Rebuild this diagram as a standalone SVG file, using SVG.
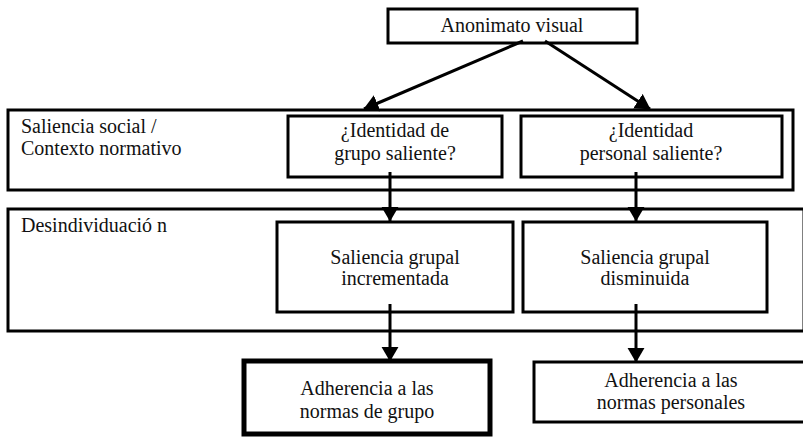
<svg xmlns="http://www.w3.org/2000/svg" width="803" height="439" viewBox="0 0 803 439">
<defs>
<style>
.frame{fill:none;stroke:#000;stroke-width:3}
.box{fill:#fff;stroke:#000;stroke-width:3}
.thick{fill:#fff;stroke:#000;stroke-width:5}
text{font-family:"Liberation Serif","Times New Roman",serif;font-size:20px;fill:#111}
.c{text-anchor:middle}
.conn{stroke:#000;stroke-width:3;fill:none}
</style>
<marker id="ah" markerWidth="5" markerHeight="6" refX="4.8" refY="2.9" orient="auto" markerUnits="strokeWidth">
<path d="M0,0 L5,2.9 L0,5.8 z" fill="#000"/>
</marker>
</defs>
<rect width="803" height="439" fill="#fff"/>
<g id="frame-saliencia">
<rect class="frame" x="8" y="110" width="785" height="80"/>
<text x="21" y="133">Saliencia social /</text>
<text x="21" y="155">Contexto normativo</text>
</g>
<g id="frame-desind">
<rect class="frame" x="8" y="209" width="796" height="122"/>
<text x="21" y="232">Desindividuació n</text>
</g>
<g id="anonimato">
<rect class="box" x="388" y="9" width="249" height="34"/>
<text class="c" x="512" y="32">Anonimato visual</text>
</g>
<g id="identidad-grupo">
<rect class="box" x="288" y="116" width="214" height="61"/>
<text class="c" x="395" y="137">¿Identidad de</text>
<text class="c" x="395" y="160">grupo saliente?</text>
</g>
<g id="identidad-personal">
<rect class="box" x="521" y="116" width="261" height="61"/>
<text class="c" x="651" y="137">¿Identidad</text>
<text class="c" x="651" y="160">personal saliente?</text>
</g>
<g id="saliencia-incrementada">
<rect class="box" x="277" y="222" width="236" height="90"/>
<text class="c" x="395" y="264">Saliencia grupal</text>
<text class="c" x="395" y="285">incrementada</text>
</g>
<g id="saliencia-disminuida">
<rect class="box" x="523" y="222" width="244" height="90"/>
<text class="c" x="645" y="264">Saliencia grupal</text>
<text class="c" x="645" y="285">disminuida</text>
</g>
<g id="adherencia-grupo">
<rect class="thick" x="244" y="361" width="246" height="73"/>
<text class="c" x="367" y="395">Adherencia a las</text>
<text class="c" x="367" y="418">normas de grupo</text>
</g>
<g id="adherencia-personal">
<rect class="box" x="534" y="362" width="275" height="60"/>
<text class="c" x="671" y="387">Adherencia a las</text>
<text class="c" x="671" y="409">normas personales</text>
</g>
<g id="connectors">
<line class="conn" x1="523" y1="41" x2="364" y2="109" marker-end="url(#ah)"/>
<line class="conn" x1="545" y1="41" x2="650" y2="109" marker-end="url(#ah)"/>
<line class="conn" x1="390" y1="172" x2="390" y2="221" marker-end="url(#ah)"/>
<line class="conn" x1="636" y1="172" x2="636" y2="221" marker-end="url(#ah)"/>
<line class="conn" x1="390" y1="304" x2="390" y2="361" marker-end="url(#ah)"/>
<line class="conn" x1="636" y1="304" x2="636" y2="362" marker-end="url(#ah)"/>
</g>
</svg>
